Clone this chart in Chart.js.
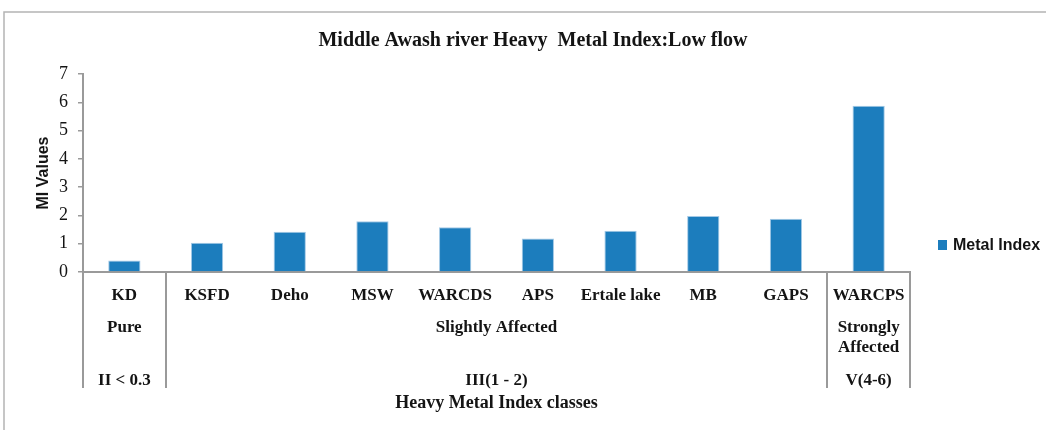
<!DOCTYPE html>
<html>
<head>
<meta charset="utf-8">
<script src="https://cdn.jsdelivr.net/npm/chart.js@4/dist/chart.umd.min.js"></script>
<style>
  html, body { margin: 0; padding: 0; background: #ffffff; }
  #wrap { width: 1046px; height: 430px; }
</style>
</head>
<body>
<div id="wrap"><canvas id="mi" width="1046" height="430"></canvas></div>
<script>
// Sampling sites along the Middle Awash river (low flow)
const sites = ['KD', 'KSFD', 'Deho', 'MSW', 'WARCDS', 'APS', 'Ertale lake', 'MB', 'GAPS', 'WARCPS'];
// Heavy metal index per site
const metalIndex = [0.41, 1.03, 1.42, 1.79, 1.58, 1.18, 1.46, 1.98, 1.88, 5.88];
// Index classes, each covering a run of consecutive sites
const classNames = [['Pure'], ['Slightly Affected'], ['Strongly', 'Affected']];
const classRanges = ['II < 0.3', 'III(1 - 2)', 'V(4-6)'];
const classSiteCounts = [1, 8, 1];

const chartTitle = 'Middle Awash river Heavy  Metal Index:Low flow';
const seriesName = 'Metal Index';
const xAxisTitle = 'Heavy Metal Index classes';
const yAxisTitle = 'MI Values';

const BAR_BLUE = '#1c7dbd';
const AXIS_GREY = '#9a9a9a';
const INK = '#141414';
const SERIF = '"Liberation Serif", "Times New Roman", serif';
const SANS = '"Liberation Sans", Arial, sans-serif';

// Frame, title, legend and the class rows under the site names
const decor = {
  id: 'decor',
  beforeDraw(chart) {
    const c = chart.ctx;
    c.save();
    c.strokeStyle = '#b4b4b4';
    c.lineWidth = 1.5;
    c.beginPath();
    c.moveTo(4, 430);
    c.lineTo(4, 12);
    c.lineTo(1046, 12);
    c.stroke();
    c.restore();
  },
  afterDraw(chart) {
    const c = chart.ctx;
    const xs = chart.scales.x;
    const area = chart.chartArea;
    c.save();

    // title
    c.fillStyle = INK;
    c.font = 'bold 20px ' + SERIF;
    c.textAlign = 'center';
    c.textBaseline = 'middle';
    c.fillText(chartTitle, 533, 41);

    // legend
    const ds = chart.data.datasets[0];
    c.fillStyle = ds.backgroundColor;
    c.fillRect(938, 240, 9, 10);
    c.fillStyle = INK;
    c.font = 'bold 16px ' + SANS;
    c.textAlign = 'left';
    c.fillText(ds.label, 953, 245.5);

    // class separators and labels
    const sepBottom = 388;
    c.strokeStyle = AXIS_GREY;
    c.lineWidth = 2;
    let start = 0;
    const bounds = [start];
    classSiteCounts.forEach(n => { start += n; bounds.push(start); });
    bounds.forEach(b => {
      const x = Math.round(xs.getPixelForValue(b - 0.5));
      c.beginPath();
      c.moveTo(x, area.bottom);
      c.lineTo(x, sepBottom);
      c.stroke();
    });

    c.fillStyle = INK;
    c.font = 'bold 17px ' + SERIF;
    c.textAlign = 'center';
    c.textBaseline = 'middle';
    for (let i = 0; i < classNames.length; i++) {
      const x0 = xs.getPixelForValue(bounds[i] - 0.5);
      const x1 = xs.getPixelForValue(bounds[i + 1] - 0.5);
      const cx = (x0 + x1) / 2;
      classNames[i].forEach((line, k) => c.fillText(line, cx, 328 + k * 20));
      c.fillText(classRanges[i], cx, 381);
    }
    c.restore();
  }
};

new Chart(document.getElementById('mi'), {
  type: 'bar',
  data: {
    labels: sites,
    datasets: [{
      label: seriesName,
      data: metalIndex,
      backgroundColor: BAR_BLUE,
      borderColor: '#a3c9e6',
      borderWidth: 1,
      barPercentage: 0.39,
      categoryPercentage: 1
    }]
  },
  options: {
    responsive: false,
    animation: false,
    devicePixelRatio: 1,
    layout: { padding: { top: 74, right: 136, bottom: 0, left: 0 } },
    plugins: {
      legend: { display: false },
      title: { display: false },
      tooltip: { enabled: false }
    },
    scales: {
      x: {
        grid: { display: false },
        border: { display: true, color: AXIS_GREY, width: 2 },
        ticks: {
          autoSkip: false,
          maxRotation: 0,
          padding: 5,
          color: INK,
          font: { family: SERIF, weight: 'bold', size: 17 }
        },
        title: {
          display: true,
          text: xAxisTitle,
          color: INK,
          padding: { top: 0, bottom: 16 },
          font: { family: SERIF, weight: 'bold', size: 18 }
        },
        afterFit(scale) { scale.height = 158; }
      },
      y: {
        min: 0,
        max: 7,
        ticks: {
          stepSize: 1,
          padding: 10,
          color: INK,
          font: { family: SERIF, size: 18 }
        },
        grid: {
          drawOnChartArea: false,
          drawTicks: true,
          tickLength: 5,
          color: AXIS_GREY,
          lineWidth: 1.5
        },
        border: { display: true, color: AXIS_GREY, width: 2 },
        title: {
          display: true,
          text: yAxisTitle,
          color: INK,
          padding: { top: 34, bottom: 0 },
          font: { family: SANS, weight: 'bold', size: 16 }
        },
        afterFit(scale) { scale.width = 83; }
      }
    }
  },
  plugins: [decor]
});
</script>
</body>
</html>
